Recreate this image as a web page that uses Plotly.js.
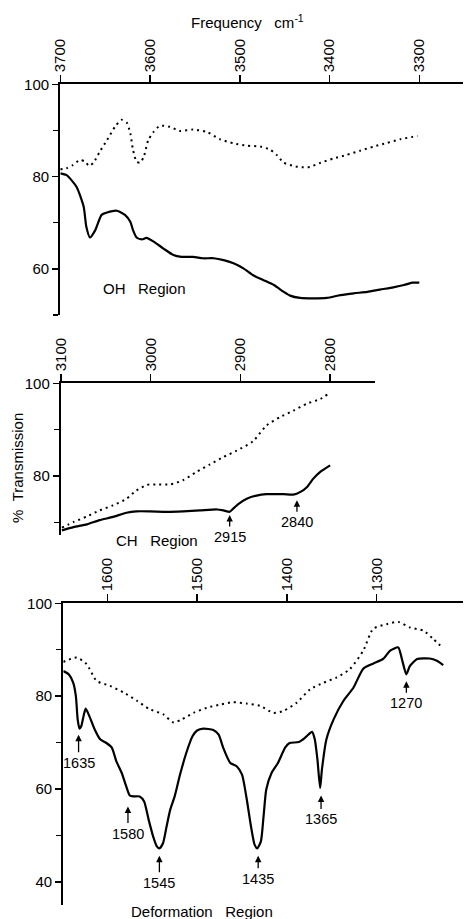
<!DOCTYPE html>
<html>
<head>
<meta charset="utf-8">
<script src="https://cdn.plot.ly/plotly-3.0.1.min.js"></script>
<style>html,body{margin:0;padding:0;background:#fff;}#chart{width:464px;height:919px;}</style>
</head>
<body>
<div id="chart"></div>
<script>
// ---------- DATA ----------
// OH region (top panel)
const ohSolidWn = [3700,3693,3682,3674,3671,3667,3661,3654,3648,3637,3628,3622,3619,3615,3609,3604,3596,3585,3574,3565,3552,3541,3529,3518,3507,3496,3485,3474,3462,3451,3444,3433,3418,3403,3388,3373,3358,3344,3329,3317,3308,3300];
const ohSolidT  = [80.7,80.3,77.8,73.5,69.1,66.8,68.4,71.7,72.2,72.6,71.7,70.2,68.4,66.8,66.4,66.7,65.9,64.4,63.0,62.6,62.6,62.3,62.3,61.9,61.2,60.1,58.6,57.6,56.5,55.0,54.2,53.7,53.6,53.7,54.3,54.7,55.0,55.5,56.0,56.5,57.0,57.0];
const ohDotWn = [3700,3693,3686,3678,3672,3668,3663,3656,3648,3639,3632,3626,3622,3619,3615,3611,3607,3602,3596,3589,3578,3567,3552,3537,3522,3507,3492,3477,3466,3459,3451,3440,3431,3422,3410,3396,3381,3366,3351,3336,3321,3302];
const ohDotT  = [81.6,81.8,82.5,83.6,83.2,82.3,83.0,85.4,87.9,90.8,92.3,91.7,89.4,85.8,83.2,83.0,84.3,87.9,89.7,91.0,90.8,89.9,90.2,89.7,88.1,87.2,86.7,86.5,85.8,84.7,83.0,82.3,82.0,82.1,83.0,83.9,84.7,85.6,86.5,87.3,88.1,88.8];
const ohTicks = [3700,3600,3500,3400,3300];

// CH region (middle panel)
const chSolidWn = [3099,3086,3071,3057,3042,3027,3016,3001,2982,2964,2945,2926,2919,2912,2908,2902,2893,2882,2871,2852,2841,2833,2826,2819,2811,2800];
const chSolidT  = [68.3,69.0,69.6,70.5,71.2,72.1,72.4,72.4,72.3,72.4,72.6,72.8,72.6,72.3,73.0,74.0,75.1,75.8,76.1,76.1,76.0,76.6,77.6,79.4,80.9,82.3];
const chDotWn = [3099,3086,3071,3057,3042,3027,3016,3004,2993,2978,2964,2949,2934,2919,2904,2886,2871,2856,2841,2826,2811,2802];
const chDotT  = [68.9,70.1,71.3,72.6,73.7,75.1,76.9,78.1,78.2,78.2,79.1,80.9,82.5,84.1,85.5,87.5,90.9,92.7,94.1,95.6,96.6,97.7];
const chTicks = [3100,3000,2900,2800];
const chPeakLabels = ["2915","2840"];
const chPeakWn = [2912,2837];
const chPeakT  = [71.6,74.8];

// Deformation region (bottom panel)
const defSolidWn = [1649,1643,1638,1635,1633,1631,1629,1626,1624,1620,1614,1608,1601,1595,1590,1584,1579,1575,1571,1564,1559,1554,1549,1545,1542,1538,1534,1530,1525,1519,1512,1505,1500,1493,1482,1476,1471,1463,1456,1450,1445,1440,1436,1433,1429,1426,1423,1417,1410,1402,1397,1387,1380,1372,1369,1366,1363,1361,1356,1348,1337,1326,1315,1304,1293,1285,1276,1272,1267,1263,1255,1241,1233,1226];
const defSolidT  = [85.4,84.7,82.9,80.0,75.0,73.0,73.5,76.1,77.3,75.7,72.8,70.7,69.9,68.9,66.0,63.5,60.6,58.6,58.4,58.4,57.3,53.4,49.8,47.7,47.2,48.3,51.9,55.5,58.4,63.1,67.8,71.4,72.6,73.0,72.7,71.7,68.9,65.6,64.9,63.1,58.1,51.9,48.0,47.2,48.7,54.1,59.9,63.5,65.6,68.9,69.9,70.1,71.0,72.3,70.7,66.3,60.2,64.2,70.7,75.0,79.0,81.8,85.9,87.0,88.0,89.8,90.5,88.0,84.7,86.5,88.0,88.1,87.6,86.7];
const defDotWn = [1649,1634,1623,1612,1597,1582,1567,1553,1538,1526,1517,1504,1489,1474,1460,1445,1430,1415,1404,1389,1374,1359,1345,1330,1315,1304,1289,1276,1263,1248,1237,1226];
const defDotT  = [87.4,88.3,86.9,83.3,82.2,80.8,79.0,77.2,76.1,74.3,75.0,76.4,77.5,78.2,78.7,78.4,77.9,76.4,76.8,78.6,81.5,82.9,84.0,85.8,89.8,94.5,95.5,96.0,94.8,94.1,92.3,90.3];
const defTicks = [1600,1500,1400,1300];
const defPeakLabels = ["1635","1580","1545","1435","1365","1270"];
const defPeakWn = [1632,1577,1542,1432,1362,1267];
const defPeakT  = [71.7,56.2,45.6,45.6,58.6,83.2];

const yTickVals = [40,60,80,100];
const yTickText = ["40","60","80","100"];

// ---------- STYLE ----------
const FONT = "Liberation Sans, Arial, sans-serif";
const W = 464, H = 919;
const solid = {color:'#000', width:2.2, shape:'spline', smoothing:0.6};
const dotted = {color:'#000', width:2, dash:'2px,4px', shape:'spline', smoothing:0.6};

const traces = [
  {x:ohDotWn, y:ohDotT, xaxis:'x', yaxis:'y', mode:'lines', line:dotted},
  {x:ohSolidWn, y:ohSolidT, xaxis:'x', yaxis:'y', mode:'lines', line:solid},
  {x:chDotWn, y:chDotT, xaxis:'x2', yaxis:'y2', mode:'lines', line:dotted},
  {x:chSolidWn, y:chSolidT, xaxis:'x2', yaxis:'y2', mode:'lines', line:solid},
  {x:defDotWn, y:defDotT, xaxis:'x3', yaxis:'y3', mode:'lines', line:dotted},
  {x:defSolidWn, y:defSolidT, xaxis:'x3', yaxis:'y3', mode:'lines', line:solid}
];

function xAx(domain, range, ticks, anchor){
  return {domain:domain, range:range, side:'top', anchor:anchor,
    showline:true, linecolor:'#000', linewidth:2, ticks:'outside', ticklen:7, tickwidth:1.5, tickcolor:'#000',
    tickmode:'array', tickvals:ticks, ticktext:ticks.map(String), tickangle:-90,
    tickfont:{family:FONT, size:15, color:'#000'}, showgrid:false, zeroline:false, fixedrange:true};
}
function yAx(domain, range, anchor){
  return {domain:domain, range:range, anchor:anchor,
    showline:true, linecolor:'#000', linewidth:2.2, ticks:'outside', ticklen:6, tickwidth:1.5, tickcolor:'#000',
    tickmode:'array', tickvals:yTickVals, ticktext:yTickText,
    minor:{tick0:0, dtick:10, ticks:'outside', ticklen:5, tickwidth:1.3, tickcolor:'#000', showgrid:false},
    tickfont:{family:FONT, size:15, color:'#000'}, showgrid:false, zeroline:false, fixedrange:true};
}
const px = v => v / W;
const py = v => 1 - v / H;

const annotations = [];
function txt(text, x, y, angle){
  annotations.push({text:text, xref:'paper', yref:'paper', x:px(x), y:py(y), xanchor:'center', yanchor:'middle',
    showarrow:false, textangle:angle||0, font:{family:FONT, size:15, color:'#000'}});
}
txt('Frequency\u00A0\u00A0\u00A0cm<sup>-1</sup>', 247, 21);
txt('OH\u00A0\u00A0\u00A0Region', 144, 288);
txt('CH\u00A0\u00A0\u00A0Region', 157, 540);
txt('Deformation\u00A0\u00A0\u00A0Region', 202, 911);
txt('%\u00A0\u00A0Transmission', 17, 468, -90);

function peaks(labels, wn, t, xr, yr, ays){
  labels.forEach((lab,i)=>{
    annotations.push({text:lab, x:wn[i], y:t[i], xref:xr, yref:yr, showarrow:true,
      ax:0, ay:ays[i], arrowhead:2, arrowsize:1, arrowwidth:1.3, arrowcolor:'#000', standoff:0, startstandoff:1,
      font:{family:FONT, size:14.5, color:'#000'}});
  });
}
peaks(chPeakLabels, chPeakWn, chPeakT, 'x2', 'y2', [22,22]);
peaks(defPeakLabels, defPeakWn, defPeakT, 'x3', 'y3', [28,27,27,23,24,22]);

const layout = {
  width:W, height:H, margin:{l:0,r:0,t:0,b:0}, showlegend:false,
  paper_bgcolor:'#fff', plot_bgcolor:'#fff',
  xaxis: xAx([px(60.3), px(463.3)], [3700, 3251], ohTicks, 'y'),
  yaxis: yAx([py(315), py(84.3)], [50, 100], 'x'),
  xaxis2: xAx([px(61), px(375)], [3100, 2750], chTicks, 'y2'),
  yaxis2: yAx([py(535), py(383.3)], [67.3, 100], 'x2'),
  xaxis3: xAx([px(63.3), px(463.3)], [1649, 1203.6], defTicks, 'y3'),
  yaxis3: yAx([py(905), py(603.3)], [35, 100], 'x3'),
  annotations: annotations
};

Plotly.newPlot('chart', traces, layout, {displayModeBar:false, staticPlot:true});
</script>
</body>
</html>
